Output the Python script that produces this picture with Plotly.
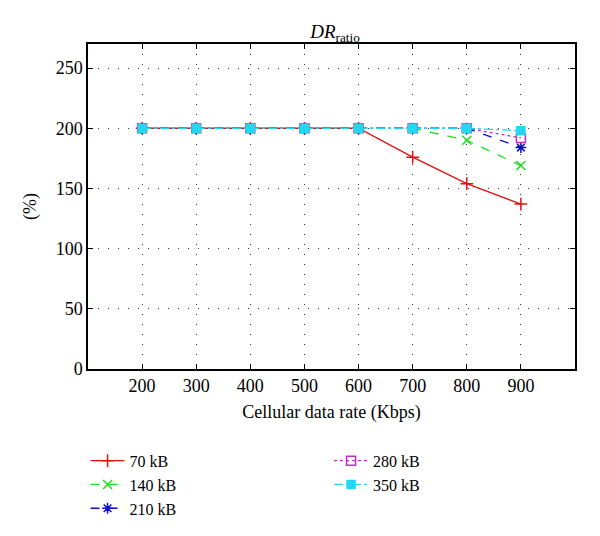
import plotly.graph_objects as go

rates = [200, 300, 400, 500, 600, 700, 800, 900]
dr_70 = [200, 200, 200, 200, 200, 176, 154, 137]
dr_140 = [200, 200, 200, 200, 200, 200, 190, 169]
dr_210 = [200, 200, 200, 200, 200, 200, 200, 184]
dr_280 = [200, 200, 200, 200, 200, 200, 200, 192]
dr_350 = [200, 200, 200, 200, 200, 200, 200, 198]

FONT = "Liberation Serif, DejaVu Serif, serif"

series = [
    ("70 kB", dr_70, "#e01010", "solid", "cross-thin-open", 9, "legend"),
    ("140 kB", dr_140, "#22dd22", "dash", "x-thin-open", 9, "legend"),
    ("210 kB", dr_210, "#1010c8", "dash", "asterisk-open", 9, "legend"),
    ("280 kB", dr_280, "#c030c0", "dot", "square-open", 9, "legend2"),
    ("350 kB", dr_350, "#22d8f0", "dashdot", "square", 8, "legend2"),
]

fig = go.Figure()
for name, ys, col, dash, sym, size, lg in series:
    fig.add_trace(go.Scatter(
        x=rates, y=ys, name=name, mode="lines+markers",
        line=dict(color=col, width=1.3, dash=dash),
        marker=dict(symbol=sym, size=size, color=col,
                    line=dict(color=col, width=1.5)),
        legend=lg,
    ))

axis_common = dict(
    showline=True, linecolor="black", linewidth=1.5, mirror="ticks",
    ticks="inside", ticklen=5, tickcolor="black",
    showgrid=True, gridcolor="#333333", griddash="1px,9px", gridwidth=1,
    zeroline=False, automargin=False,
    tickfont=dict(family=FONT, size=18, color="black"),
)

leg_common = dict(
    yref="container", y=0.162, xanchor="left", yanchor="top",
    font=dict(family=FONT, size=16), tracegroupgap=0,
    itemwidth=34, bgcolor="rgba(0,0,0,0)",
)

fig.update_layout(
    width=584, height=520,
    paper_bgcolor="white", plot_bgcolor="white",
    margin=dict(l=80, r=17, t=36, b=159),
    font=dict(family=FONT, color="black"),
    title=dict(text="<i>DR</i><sub>ratio</sub>", x=0.56, xanchor="center",
               y=0.955, yanchor="middle",
               font=dict(family=FONT, size=19, color="black")),
    xaxis=dict(range=[100, 1000], tickvals=rates, **axis_common,
               title=dict(text="Cellular data rate (Kbps)",
                          font=dict(family=FONT, size=18), standoff=10)),
    yaxis=dict(range=[0, 270], tickvals=[0, 50, 100, 150, 200, 250], **axis_common,
               title=dict(text="(%)", font=dict(family=FONT, size=18), standoff=14)),
    legend=dict(x=-0.005, **leg_common),
    legend2=dict(x=0.495, **leg_common),
)

fig.write_html("out.html")
